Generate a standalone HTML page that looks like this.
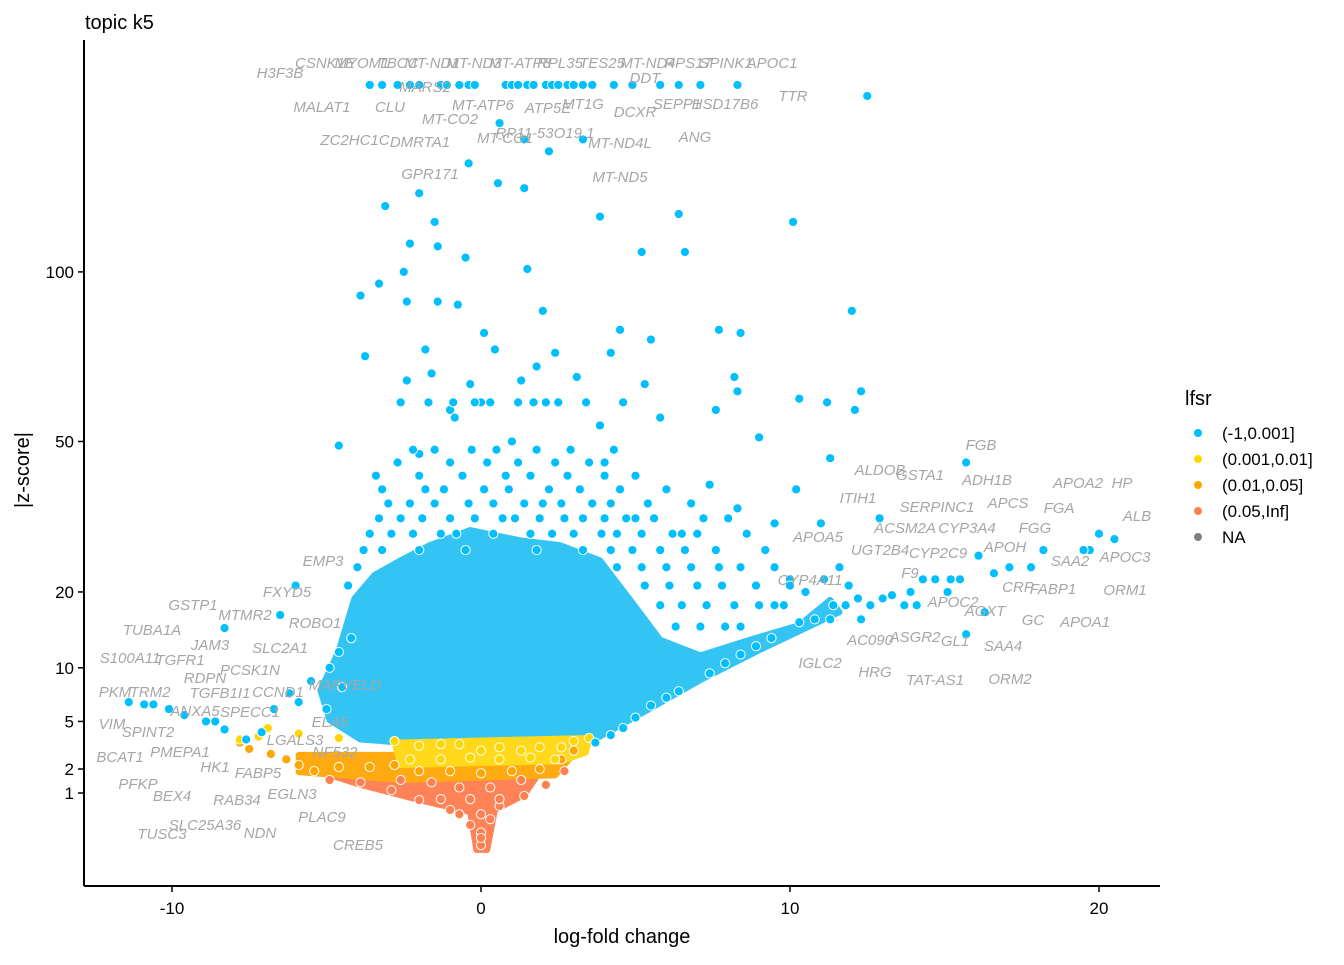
<!DOCTYPE html>
<html><head><meta charset="utf-8"><style>
body{margin:0;background:#fff}
svg text{font-family:"Liberation Sans",sans-serif}
.lbl{fill:#a6a6a6;font-style:italic;font-size:15px}
</style></head><body>
<svg id="chart" width="1344" height="960" xmlns="http://www.w3.org/2000/svg">
<text x="85" y="29" font-size="20">topic k5</text>
<g id="hulls"></g>
<g id="pts"></g>
<g id="labels"></g>
<g id="axes"></g>
<text x="622" y="943" font-size="20" text-anchor="middle">log-fold change</text>
<text transform="translate(29,470) rotate(-90)" font-size="20" text-anchor="middle">|z-score|</text>
<g id="legend"></g>
</svg>
<script>
const xTicks=[-10,0,10,20];
const yTicks=[1,2,5,10,20,50,100];
const classes=["(-1,0.001]","(0.001,0.01]","(0.01,0.05]","(0.05,Inf]","NA"];
const classColors=["#00bfff","#ffd700","#ffa500","#ff7f50","#7f7f7f"];
const blueHull=[[-4.6,12],[-4.1,19],[-3.45,22.7],[-2.6,25.2],[-1.65,27.9],[-0.35,30.7],[1.25,28.8],[2.55,27.9],[3.85,25.2],[4.8,19],[5.8,13.3],[7.1,11.4],[8.7,13.3],[10.3,15.2],[11.3,18.8],[11.6,17],[9,12],[7.1,8.7],[5.1,5.5],[3.5,3.5],[0.6,3.3],[-2.6,3.5],[-3.9,3.7],[-4.9,5.1],[-5.2,7.7]];
const yellowHull=[[-2.8,3.5],[3.5,3.8],[3.4,2.9],[2.6,2.4],[-2.6,2.2]];
const orangeHull=[[-5.9,2.75],[-2.6,2.75],[2.9,2.6],[2.4,1.7],[-2.6,1.5],[-5.9,1.85]];
const redHull=[[-4.9,1.72],[-1,1.95],[1.9,1.85],[1.4,0.93],[0.45,0.5],[0.2,0.0003],[-0.15,0.0003],[-0.35,0.45],[-2,0.77],[-3.9,1.3]];
const blueRowZ=[60,48,45,42,39,36,33,30,27,24,21,18,15];
const blueRowLfc=[
[-2.6,-1.7,-0.9,0.3,1.2,2.1,3.4,4.6,-0.2,1.7],
[-2.2,-1.5,-0.3,0.5,1.8,2.9,4.3],
[-2.7,-1.0,0.2,1.2,2.4,3.5],
[-2.0,-0.6,0.8,1.6,2.8,4.0,5.0],
[-3.2,-1.8,-1.2,0.1,0.9,2.2,3.2,4.5,6.0],
[-3.0,-2.3,-1.5,-0.4,0.4,1.4,2.0,2.6,3.6,4.2,5.4,6.8],
[-3.3,-2.6,-1.9,-1.0,-0.2,0.7,1.1,1.9,2.7,3.3,4.0,4.7,5.6,7.2,8.0],
[-3.6,-2.9,-2.2,-1.3,-0.8,0.4,1.6,2.3,3.0,3.9,4.4,5.2,6.2,7.0,8.6],
[-3.8,-3.2,-2.0,-0.5,1.8,3.3,4.2,4.9,5.8,6.6,7.6,9.2],
[-4.0,4.4,5.2,6.0,6.8,7.7,8.4,9.5],
[-4.3,5.3,6.1,7.0,7.8,8.9,10.0],
[5.8,6.5,7.3,8.2,9.0,9.8],
[6.3,7.1,7.9,8.4]];
const bluePts=[[-3.6,175],[-3.2,175],[-2.7,175],[-2.3,175],[-2,175],[-1.3,175],[-1.1,175],[-0.7,175],[-0.4,175],[-0.2,175],[0.8,175],[1,175],[1.2,175],[1.5,175],[1.7,175],[2.1,175],[2.3,175],[2.5,175],[2.8,175],[3,175],[3.3,175],[3.6,175],[4.3,175],[4.9,175],[5.8,175],[6.4,175],[7.1,175],[8.3,175],[12.5,170],
[0.6,158],[1.4,151],[2.2,146],[3.3,151],[-0.4,141],[0.55,133],[1.4,131],[-2,129],[-3.1,124],[-1.5,118],[3.85,120],[6.4,121],[-2.3,110],[-1.4,109],[-0.5,105],[1.5,101],[5.2,107],[6.6,107],[10.1,118],[-2.5,100],[-3.9,92],[-3.3,96],[-2.4,90],[-1.4,90],[-0.75,89],[0.1,80],[2,87],[4.5,81],[5.5,78],[7.7,81],[8.4,80],[12,87],[-3.75,73],[0.45,75],[2.4,74],[4.2,74],[-2.4,66],[-1.6,68],[-0.35,65],[1.3,66],[3.1,67],[5.3,65],[8.2,67],[8.3,63],[10.3,61],[11.2,60],[12.3,63],[12.1,58],[11.3,46],[-4.6,49],[10.2,39],[-3.4,42],[-2,47],[-0.85,56],[1,50],[3.85,54],[5.8,56],[7.6,58],[9,51],[9.5,32],[11,32],[8.3,35],[7.4,40],[12.9,33],[6.5,30],[5,33],[4,45],[2.5,60],[0,60],[-1,58],[1.8,70],[-1.8,75],
[15.7,45],[16.1,26],[18.2,27],[20,30],[20.5,29],[19.7,27],[19.5,27],[17.8,24],[17.1,24],[16.6,23],[15.5,22],[15.2,22],[14.7,22],[14.3,22],[13.9,20],[13.3,19.5],[13,19],[12.6,18],[12.2,19],[11.8,18],[11.4,18],[11.9,21],[15.7,14],[16.3,17],[15.1,20],[14.1,18],[13.7,18],[12.3,16],[11.6,24],[11.1,22],[10.5,20],[10,22],[9.5,18],[10.8,16],
[3.7,3.5],[4.6,4.5],[5.5,6.3],[6.4,7.6],[7.4,9.4],[8.4,11.5],[9.4,13.5],[10.3,15.6],[11.3,16],[8.9,12.5],[7.9,10.5],[6,7],[5,5.3],[4.2,4],
[-6,21],[-6.5,16.6],[-8.3,14.8],[-4.2,13.5],[-4.6,11.8],[-4.9,10],[-5.5,8.6],[-6.2,7.4],[-5.9,6.6],[-6.7,6],[-11.4,6.6],[-10.9,6.4],[-10.6,6.4],[-10.1,6],[-9.6,5.5],[-8.9,5],[-8.6,5],[-8.3,4.4],[-7.6,3.7],[-7.1,4.2],[-5,6],[-4.5,8]];
const yellowPts=[[-7.8,3.7],[-7.2,3.9],[-6.9,4.5],[-5.9,4.1],[-4.6,3.8],[-2.8,3.6],[-2,3.3],[-1.3,3.4],[-0.7,3.4],[0,3],[0.6,3.2],[1.3,3],[1.9,3.2],[2.6,3.2],[3,3.6],[3.5,3.8],[-2.3,2.5],[-1.3,2.5],[-0.35,2.6],[0.6,2.5],[1.6,2.6],[2.4,2.5]];
const orangePts=[[-7.8,3.5],[-7.5,3.1],[-6.8,2.8],[-6.3,2.5],[-5.9,2.2],[-5.4,1.9],[-4.6,2.1],[-3.6,2.1],[-2.8,2.2],[-2,1.9],[-1,1.9],[0,1.8],[1,1.9],[1.9,2],[2.6,2.5],[3,3]];
const redPts=[[-4.9,1.5],[-3.9,1.4],[-2.9,1.1],[-2,0.77],[-1,0.5],[-0.35,0.2],[0,0.01],[0.3,0.3],[0.6,0.6],[1.4,0.9],[2.1,1.3],[2.7,1.9],[-2.6,1.5],[-1.6,1.4],[-0.7,1.2],[0.3,1.2],[1.3,1.5],[-1.3,0.8],[-0.35,0.8],[0.6,0.8],[-0.7,0.4],[0,0.4],[0,0.1],[0,0.05]];
const labelText=["H3F3B","CSNK1E","MYOM1","TBCC","MT-ND1","MT-ND3","MT-ATP8","RPL35","TES25","MT-ND4","RPS17","SPINK1","APOC1","MALAT1","CLU","MARS2","MT-ATP6","ATP5E","MT1G","DDT","DCXR","SEPP1","HSD17B6","TTR","ZC2HC1C","DMRTA1","MT-CO2","RP11-53O19.1","MT-CO1","MT-ND4L","ANG","GPR171","MT-ND5",
"EMP3","FXYD5","GSTP1","MTMR2","ROBO1","TUBA1A","JAM3","SLC2A1","S100A11","TGFR1","PCSK1N","RDPN","CCND1","MARVELD","PKM","TRM2","TGFB1I1","ANXA5","SPECC1","ELA5","VIM","SPINT2","LGALS3","PMEPA1","NF532","BCAT1","HK1","FABP5","EGLN3","PFKP","BEX4","RAB34","PLAC9","SLC25A36","NDN","TUSC3","CREB5",
"FGB","ALDOB","GSTA1","ADH1B","ITIH1","APCS","APOA2","HP","FGA","ALB","SERPINC1","ACSM2A","CYP3A4","FGG","APOA5","UGT2B4","CYP2C9","APOH","SAA2","APOC3","F9","CYP4A11","CRP","FABP1","ORM1","APOC2","AGXT","GC","APOA1","AC090","ASGR2","GL1","SAA4","IGLC2","HRG","TAT-AS1","ORM2"];
const labelPos=[[280,78],[325,68],[362,68],[398,68],[432,68],[474,68],[520,68],[560,68],[602,68],[648,68],[688,68],[726,68],[772,68],[322,112],[390,112],[425,92],[483,110],[548,113],[583,109],[645,83],[635,117],[677,109],[725,109],[793,101],[355,145],[420,147],[450,124],[545,138],[505,143],[620,148],[695,142],[430,179],[620,182],
[323,566],[287,597],[193,610],[245,620],[315,628],[152,635],[210,650],[280,653],[130,663],[180,665],[250,675],[205,683],[278,697],[345,690],[115,697],[150,697],[220,698],[195,716],[250,717],[330,727],[112,729],[148,737],[295,745],[180,757],[335,757],[120,762],[215,772],[258,778],[292,799],[138,789],[172,801],[237,805],[322,822],[205,830],[260,838],[162,839],[358,850],
[981,450],[880,475],[920,480],[987,485],[858,503],[1008,508],[1078,488],[1122,488],[1059,513],[1137,521],[937,512],[905,533],[967,533],[1035,533],[818,542],[880,555],[938,558],[1005,552],[1070,566],[1125,562],[910,578],[810,585],[1018,592],[1053,594],[1125,595],[953,607],[985,616],[1033,625],[1085,627],[870,645],[915,642],[955,646],[1003,651],[820,668],[875,677],[935,685],[1010,684]];
const X0=481,XS=30.9,Y0=793,YS=57.9;
function xs(v){return X0+v*XS;}
function ys(z){return Y0-(Math.sqrt(z)-1)*YS;}
const NS="http://www.w3.org/2000/svg";
function mk(t,a,p){const e=document.createElementNS(NS,t);for(const k in a)e.setAttribute(k,a[k]);p.appendChild(e);return e;}
const hulls=document.getElementById('hulls');
[[blueHull,"#33c4f3","blue-core"],[redHull,"#ff8357","red-core"],[orangeHull,"#ffaa10","orange-core"],[yellowHull,"#ffd91a","yellow-core"]].forEach(h=>{
 const e=mk('polygon',{points:h[0].map(p=>xs(p[0])+','+ys(p[1])).join(' '),fill:h[1],stroke:h[1],'stroke-width':6,'stroke-linejoin':'round'},hulls);
 
 
});
const pts=document.getElementById('pts');
function dot(l,z,ci){
 const c=mk('circle',{cx:xs(l),cy:ys(z),r:4.6,fill:classColors[ci],stroke:'#fff','stroke-width':1},pts);
 
 
}
redPts.forEach(p=>dot(p[0],p[1],3));
orangePts.forEach(p=>dot(p[0],p[1],2));
yellowPts.forEach(p=>dot(p[0],p[1],1));
bluePts.forEach(p=>dot(p[0],p[1],0));
blueRowZ.forEach((z,i)=>blueRowLfc[i].forEach(l=>dot(l,z,0)));
const lg=document.getElementById('labels');
labelText.forEach((t,i)=>{
 const e=mk('text',{x:labelPos[i][0],y:labelPos[i][1],'text-anchor':'middle',class:'lbl'},lg);
 e.textContent=t;
 
 
});
const ax=document.getElementById('axes');
mk('line',{x1:84,y1:40,x2:84,y2:886,stroke:'#000','stroke-width':2},ax);
mk('line',{x1:84,y1:886,x2:1160,y2:886,stroke:'#000','stroke-width':2},ax);
xTicks.forEach(v=>{
 mk('line',{x1:xs(v),y1:886,x2:xs(v),y2:892,stroke:'#000','stroke-width':1.5},ax);
 const t=mk('text',{x:xs(v),y:914,'text-anchor':'middle','font-size':17},ax);t.textContent=v;
 
 
});
yTicks.forEach(v=>{
 mk('line',{x1:78,y1:ys(v),x2:84,y2:ys(v),stroke:'#000','stroke-width':1.5},ax);
 const t=mk('text',{x:74,y:ys(v)+6,'text-anchor':'end','font-size':17},ax);t.textContent=v;
 
 
});
const leg=document.getElementById('legend');
const lt=mk('text',{x:1185,y:405,'font-size':20},leg);lt.textContent='lfsr';


classes.forEach((c,i)=>{
 const y=433+i*26;
 mk('circle',{cx:1198,cy:y,r:4,fill:classColors[i]},leg);
 const t=mk('text',{x:1222,y:y+6,'font-size':17},leg);t.textContent=c;
 
 
});
</script>
</body></html>
